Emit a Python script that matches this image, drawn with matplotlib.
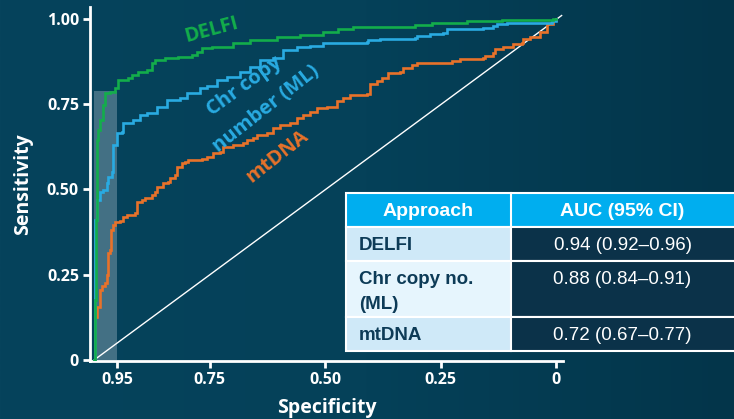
import numpy as np
import matplotlib
matplotlib.use("Agg")
import matplotlib.pyplot as plt
from matplotlib.patches import Rectangle
from matplotlib.colors import LinearSegmentedColormap

# ---------------- data ----------------
delfi_spec = [1.0, 0.998, 0.996, 0.994, 0.994, 0.991, 0.987, 0.981, 0.976, 0.965, 0.955, 0.948, 0.926,
              0.918, 0.905, 0.885, 0.874, 0.868, 0.846, 0.818, 0.788, 0.777, 0.766, 0.745, 0.699, 0.662,
              0.604, 0.554, 0.504, 0.472, 0.439, 0.305, 0.268, 0.193, 0.117, 0.006, 0.0]
delfi_sens = [0, 0.176, 0.41, 0.47, 0.645, 0.674, 0.704, 0.748, 0.783, 0.786, 0.798, 0.821, 0.827,
              0.836, 0.845, 0.850, 0.871, 0.880, 0.886, 0.889, 0.894, 0.903, 0.915, 0.918, 0.930, 0.938,
              0.947, 0.953, 0.962, 0.971, 0.977, 0.982, 0.987, 0.993, 0.997, 0.999, 1.0]

chr_spec = [1.0, 0.999, 0.998, 0.998, 0.998, 0.994, 0.994, 0.987, 0.981, 0.972, 0.970, 0.961, 0.959,
            0.950, 0.950, 0.939, 0.937, 0.916, 0.900, 0.885, 0.864, 0.842, 0.814, 0.799, 0.771, 0.755,
            0.734, 0.712, 0.684, 0.662, 0.641, 0.613, 0.591, 0.561, 0.532, 0.504, 0.409, 0.407, 0.381,
            0.305, 0.301, 0.273, 0.245, 0.236, 0.158, 0.136, 0.128, 0.106, 0.019, 0.009, 0.0]
chr_sens = [0, 0.059, 0.147, 0.293, 0.411, 0.440, 0.469, 0.493, 0.499, 0.519, 0.537, 0.551, 0.630,
            0.636, 0.666, 0.669, 0.695, 0.704, 0.718, 0.724, 0.742, 0.762, 0.768, 0.783, 0.798, 0.804,
            0.821, 0.830, 0.845, 0.859, 0.880, 0.886, 0.909, 0.918, 0.921, 0.930, 0.933, 0.938, 0.941,
            0.944, 0.950, 0.956, 0.959, 0.971, 0.974, 0.979, 0.985, 0.988, 0.988, 0.994, 1.0]

mt_spec = [1.0, 0.998, 0.994, 0.994, 0.987, 0.987, 0.983, 0.976, 0.972, 0.972, 0.970, 0.970, 0.965,
           0.963, 0.959, 0.955, 0.944, 0.937, 0.929, 0.911, 0.907, 0.896, 0.890, 0.874, 0.868, 0.864,
           0.851, 0.840, 0.835, 0.825, 0.820, 0.810, 0.803, 0.797, 0.766, 0.755, 0.742, 0.727, 0.721,
           0.699, 0.677, 0.669, 0.656, 0.647, 0.626, 0.613, 0.597, 0.576, 0.561, 0.548, 0.532, 0.517,
           0.496, 0.474, 0.461, 0.446, 0.409, 0.403, 0.387, 0.377, 0.364, 0.338, 0.331, 0.312, 0.301,
           0.229, 0.225, 0.208, 0.158, 0.154, 0.136, 0.132, 0.115, 0.093, 0.074, 0.071, 0.056, 0.035,
           0.035, 0.019, 0.006, 0.0]
mt_sens = [0, 0.126, 0.126, 0.155, 0.161, 0.205, 0.217, 0.226, 0.235, 0.249, 0.255, 0.314, 0.323,
           0.381, 0.396, 0.405, 0.408, 0.419, 0.425, 0.431, 0.463, 0.469, 0.475, 0.484, 0.493, 0.507,
           0.519, 0.522, 0.534, 0.543, 0.566, 0.578, 0.581, 0.587, 0.589, 0.595, 0.607, 0.610, 0.625,
           0.630, 0.636, 0.645, 0.651, 0.660, 0.666, 0.680, 0.689, 0.695, 0.710, 0.718, 0.727, 0.739,
           0.742, 0.760, 0.768, 0.777, 0.780, 0.809, 0.818, 0.827, 0.842, 0.845, 0.856, 0.865, 0.871,
           0.871, 0.877, 0.883, 0.886, 0.891, 0.900, 0.912, 0.918, 0.927, 0.930, 0.941, 0.947, 0.947,
           0.962, 0.985, 0.997, 1.0]

x_ticks = [0.95, 0.75, 0.50, 0.25, 0.0]
x_ticklabels = ["0.95", "0.75", "0.50", "0.25", "0"]
y_ticks = [0.0, 0.25, 0.50, 0.75, 1.00]
y_ticklabels = ["0", "0.25", "0.50", "0.75", "1.00"]

highlight_spec = (1.0, 0.95)
highlight_sens = 0.79

table_header = ["Approach", "AUC (95% CI)"]
table_approach = ["DELFI", "Chr copy no.\n(ML)", "mtDNA"]
table_auc = ["0.94 (0.92\u20130.96)", "0.88 (0.84\u20130.91)", "0.72 (0.67\u20130.77)"]

GREEN = "#13ad4b"
BLUE = "#29abe2"
ORANGE = "#e8722a"

W, H = 734, 419
fig = plt.figure(figsize=(W / 100, H / 100), dpi=100)

# background gradient
bg = fig.add_axes([0, 0, 1, 1], zorder=0)
cmap = LinearSegmentedColormap.from_list("bg", ["#06435c", "#054159", "#03354a"])
grad = np.linspace(0, 1, 256).reshape(1, -1)
bg.imshow(grad, aspect="auto", cmap=cmap, extent=[0, 1, 0, 1])
bg.set_axis_off()

# main axes, pixel layout: left 90, right 563, top 7, bottom 361
ax = fig.add_axes([90 / W, (H - 361) / H, (563 - 90) / W, (361 - 7) / H], zorder=1)
ax.patch.set_alpha(0)
ax.set_xlim(1.009, -0.015)
ax.set_ylim(-0.003, 1.035)

ax.add_patch(Rectangle((highlight_spec[1], 0), highlight_spec[0] - highlight_spec[1], highlight_sens,
                       facecolor="#a9bdc7", alpha=0.38, edgecolor="none", zorder=1))
ax.plot([1.0, -0.012], [0.0, 1.01], color="white", lw=1.0, zorder=2)

for s, v, c in [(mt_spec, mt_sens, ORANGE), (chr_spec, chr_sens, BLUE), (delfi_spec, delfi_sens, GREEN)]:
    ax.plot(s, v, color=c, lw=1.9, drawstyle="steps-post", zorder=3, solid_joinstyle="miter")

for side in ["top", "right"]:
    ax.spines[side].set_visible(False)
for side in ["left", "bottom"]:
    ax.spines[side].set_color("white")
    ax.spines[side].set_linewidth(2)

ax.set_xticks(x_ticks)
ax.set_xticklabels(x_ticklabels)
ax.set_yticks(y_ticks)
ax.set_yticklabels(y_ticklabels)
ax.tick_params(colors="white", width=2, length=5, direction="out", labelsize=11.5, pad=3)
for lab in ax.get_xticklabels() + ax.get_yticklabels():
    lab.set_fontfamily("Open Sans")
    lab.set_fontweight("bold")
    lab.set_color("white")

ax.set_xlabel("Specificity", color="white", fontsize=14, fontweight="bold", family="Open Sans", labelpad=7)
ax.set_ylabel("Sensitivity", color="white", fontsize=14, fontweight="bold", family="Open Sans", labelpad=10)

# overlay in figure pixel coordinates
ov = fig.add_axes([0, 0, 1, 1], zorder=3)
ov.set_xlim(0, W)
ov.set_ylim(H, 0)
ov.set_axis_off()
ov.patch.set_alpha(0)

lab_kw = dict(ha="center", va="center", fontsize=14.5, fontweight="bold", family="Open Sans",
              rotation_mode="anchor")
ov.text(212, 30, "DELFI", color=GREEN, rotation=15, **lab_kw)
ov.text(244, 86, "Chr copy", color=BLUE, rotation=36, **lab_kw)
ov.text(266, 109, "number (ML)", color=BLUE, rotation=38, **lab_kw)
ov.text(277, 156, "mtDNA", color=ORANGE, rotation=38, **lab_kw)

# table
tx0, tx1, tx2 = 346, 511, 736
rows_y = [193, 227, 261, 317, 351]
ov.add_patch(Rectangle((tx0, rows_y[0]), tx2 - tx0, rows_y[1] - rows_y[0], facecolor="#00aeef",
                       edgecolor="white", lw=1.5))
ov.plot([tx1, tx1], [rows_y[0], rows_y[1]], color="white", lw=1.5)
ov.text((tx0 + tx1) / 2, (rows_y[0] + rows_y[1]) / 2 + 1, table_header[0], color="white", fontsize=14,
        fontweight="bold", family="Liberation Sans", ha="center", va="center")
ov.text((tx1 + 734) / 2, (rows_y[0] + rows_y[1]) / 2 + 1, table_header[1], color="white", fontsize=14,
        fontweight="bold", family="Liberation Sans", ha="center", va="center")

left_colors = ["#cfe9f8", "#e6f5fd", "#cfe9f8"]
for i in range(3):
    y0, y1 = rows_y[i + 1], rows_y[i + 2]
    ov.add_patch(Rectangle((tx0, y0), tx1 - tx0, y1 - y0, facecolor=left_colors[i], edgecolor="white", lw=1.5))
    ov.add_patch(Rectangle((tx1, y0), tx2 - tx1, y1 - y0, facecolor="#0b3249", edgecolor="white", lw=1.5))
    for k, line in enumerate(table_approach[i].split("\n")):
        ov.text(tx0 + 13, y0 + 18 + 25 * k, line, color="#0d3b57", fontsize=13.5, fontweight="bold",
                family="Liberation Sans", ha="left", va="center")
    ov.text((tx1 + 734) / 2, y0 + 18, table_auc[i], color="white", fontsize=13.5,
            family="Liberation Sans", ha="center", va="center")

fig.savefig("out.png", dpi=100, facecolor=fig.get_facecolor())
